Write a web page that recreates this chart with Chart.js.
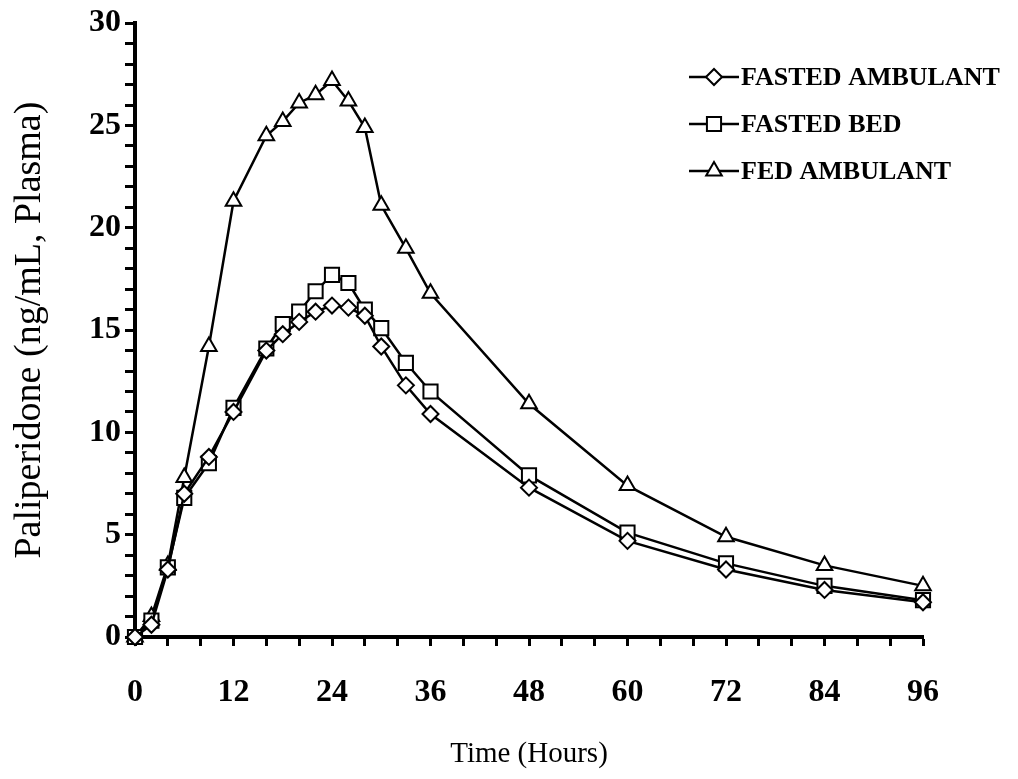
<!DOCTYPE html>
<html>
<head>
<meta charset="utf-8">
<script src="https://cdn.jsdelivr.net/npm/chart.js@4.4.1/dist/chart.umd.min.js"></script>
<style>
  body { margin: 0; background: #fff; }
  canvas { display: block; }
</style>
</head>
<body>
<canvas id="pkChart" width="1018" height="779"></canvas>
<script>
// sampling times (hours)
var hours = [0, 2, 4, 6, 9, 12, 16, 18, 20, 22, 24, 26, 28, 30, 33, 36, 48, 60, 72, 84, 96];
// paliperidone plasma concentration, ng/mL
var fastedAmbulant = [0, 0.6, 3.3, 7.0, 8.8, 11.0, 14.0, 14.8, 15.4, 15.9, 16.2, 16.1, 15.7, 14.2, 12.3, 10.9, 7.3, 4.7, 3.3, 2.3, 1.7];
var fastedBed = [0, 0.8, 3.4, 6.8, 8.5, 11.2, 14.1, 15.3, 15.9, 16.9, 17.7, 17.3, 16.0, 15.1, 13.4, 12.0, 7.9, 5.1, 3.6, 2.5, 1.8];
var fedAmbulant = [0, 1.0, 3.5, 7.8, 14.2, 21.3, 24.5, 25.2, 26.1, 26.5, 27.2, 26.2, 24.9, 21.1, 19.0, 16.8, 11.4, 7.4, 4.9, 3.5, 2.5];
var seriesNames = ['FASTED AMBULANT', 'FASTED BED', 'FED AMBULANT'];
var xTickLabels = [0, 12, 24, 36, 48, 60, 72, 84, 96];
var yTickLabels = [0, 5, 10, 15, 20, 25, 30];

var serif = '"Liberation Serif", "Times New Roman", serif';

function toPoints(values) {
    return values.map((v, i) => ({ x: hours[i], y: v }));
}

function makeSet(label, values, style, radius) {
    return {
        label: label,
        data: toPoints(values),
        borderColor: '#000',
        borderWidth: 2.5,
        pointStyle: style,
        pointRadius: radius,
        pointBackgroundColor: '#fff',
        pointBorderColor: '#000',
        pointBorderWidth: 2,
        tension: 0,
        clip: false
    };
}

// legend drawn in the upper right, line + marker like the original
var legendBox = {
    id: 'legendBox',
    afterDraw: function(chart) {
        const ctx = chart.ctx;
        const sets = chart.data.datasets;
        ctx.save();
        for (let i = 0; i < sets.length; i++) {
            const ds = sets[i];
            const y = 77 + i * 47;
            ctx.strokeStyle = '#000';
            ctx.lineWidth = 2.5;
            ctx.beginPath();
            ctx.moveTo(689, y);
            ctx.lineTo(739, y);
            ctx.stroke();
            ctx.fillStyle = '#fff';
            ctx.lineWidth = 2;
            Chart.helpers.drawPoint(ctx, { pointStyle: ds.pointStyle, radius: ds.pointRadius, borderWidth: 2 }, 714, y);
            ctx.fillStyle = '#000';
            ctx.font = 'bold 26px ' + serif;
            ctx.textBaseline = 'middle';
            ctx.textAlign = 'left';
            ctx.fillText(ds.label, 741, y + 1);
        }
        ctx.restore();
    }
};

new Chart(document.getElementById('pkChart'), {
    type: 'line',
    data: {
        datasets: [
            makeSet(seriesNames[0], fastedAmbulant, 'rectRot', 8),
            makeSet(seriesNames[1], fastedBed, 'rect', 10),
            makeSet(seriesNames[2], fedAmbulant, 'triangle', 9)
        ]
    },
    options: {
        responsive: false,
        animation: false,
        layout: { padding: { top: 21, right: 95, left: 0, bottom: 0 } },
        plugins: {
            legend: { display: false },
            tooltip: { enabled: false }
        },
        scales: {
            x: {
                type: 'linear',
                min: 0,
                max: 96,
                border: { color: '#000', width: 4 },
                grid: { drawOnChartArea: false, drawTicks: true, tickLength: 9, tickColor: '#000', tickWidth: 3 },
                ticks: {
                    stepSize: 4,
                    autoSkip: false,
                    maxRotation: 0,
                    padding: 28,
                    color: '#000',
                    font: { family: serif, size: 32, weight: 'bold' },
                    callback: v => xTickLabels.includes(v) ? String(v) : ''
                },
                title: {
                    display: true,
                    text: 'Time (Hours)',
                    color: '#000',
                    font: { family: serif, size: 29 },
                    padding: { top: 0, bottom: 7 }
                },
                afterFit: function(scale) { scale.height = 142; }
            },
            y: {
                min: 0,
                max: 30,
                border: { color: '#000', width: 4 },
                grid: { drawOnChartArea: false, drawTicks: true, tickLength: 10, tickColor: '#000', tickWidth: 3 },
                ticks: {
                    stepSize: 1,
                    autoSkip: false,
                    padding: 4,
                    color: '#000',
                    font: { family: serif, size: 32, weight: 'bold' },
                    callback: v => yTickLabels.includes(v) ? String(v) : ''
                },
                title: {
                    display: true,
                    text: 'Paliperidone (ng/mL, Plasma)',
                    color: '#000',
                    font: { family: serif, size: 38 },
                    padding: { top: 7, bottom: 0 }
                },
                afterFit: function(scale) { scale.width = 135; }
            }
        }
    },
    plugins: [legendBox]
});
</script>
</body>
</html>
